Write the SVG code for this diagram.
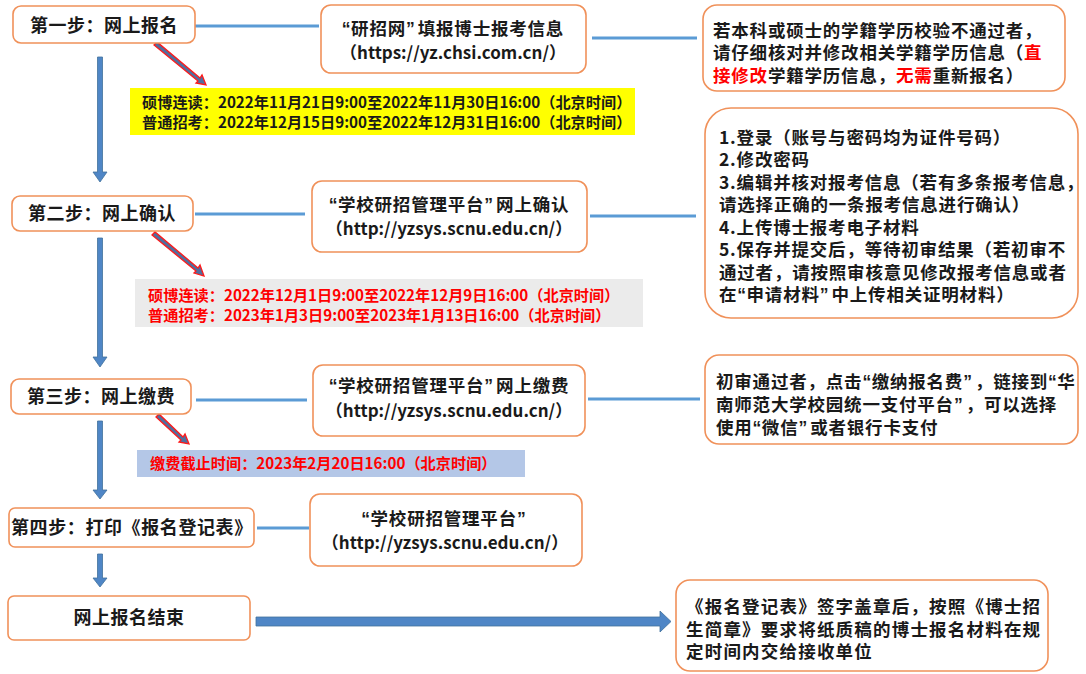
<svg xmlns="http://www.w3.org/2000/svg" width="1086" height="674" viewBox="0 0 1086 674">
<defs>
<style>
.box{fill:#fff;stroke:#F0915A;stroke-width:1.6}
.t{font-family:"Noto Sans CJK SC","Noto Sans",sans-serif;font-weight:bold;fill:#1a1a1a}
.c{text-anchor:middle}
.st{font-size:18px;letter-spacing:0.5px}
.b{font-size:17.5px;letter-spacing:0.8px}
.u{font-size:17px;letter-spacing:0px}
.s15{font-size:15.2px}
.red{fill:#FF0000}
.qo{font-family:"Liberation Sans",sans-serif;letter-spacing:0.5px}
.qc{font-family:"Liberation Sans",sans-serif;letter-spacing:3px}
.ln{stroke:#5B9BD5;stroke-width:3;fill:none}
.va{fill:#4F86C6;stroke:#41719C;stroke-width:0.8}
.ra{fill:#4F6FA0;stroke:#FF1A1A;stroke-width:1.3}
</style>
</defs>
<rect width="1086" height="674" fill="#fff"/>

<g id="connectors">
<line class="ln" x1="195" y1="26" x2="319" y2="26"/>
<line class="ln" x1="592" y1="38" x2="697" y2="38"/>
<line class="ln" x1="195" y1="214" x2="305" y2="214"/>
<line class="ln" x1="590" y1="216" x2="696" y2="216"/>
<line class="ln" x1="196" y1="400" x2="307" y2="400"/>
<line class="ln" x1="588" y1="399" x2="700" y2="399"/>
<line class="ln" x1="257" y1="528" x2="309" y2="528"/>
<path class="va" d="M97.5 57 H102.5 V172 H107 L100 182 L93 172 H97.5 Z"/>
<path class="va" d="M97.5 238 H102.5 V357 H107 L100 367 L93 357 H97.5 Z"/>
<path class="va" d="M97.5 421 H102.5 V490 H107 L100 499 L93 490 H97.5 Z"/>
<path class="va" d="M97.5 554 H102.5 V578 H107 L100 587 L93 578 H97.5 Z"/>
<g class="ra">
<path d="M154 45 L157 42 L200 78 L202 75 L206 85 L196 83 L198 81 Z"/>
<path d="M152 235 L155 232 L198 268 L200 265 L204 276 L194 273 L196 271 Z"/>
<path d="M156 417 L159 414 L183 437 L185 434 L189 444 L179 442 L181 440 Z"/>
</g>
<path fill="#4F86C6" stroke="#41719C" stroke-width="0.8" d="M256 617 H660 V611 L671 621.5 L660 632 V626 H256 Z"/>
</g>

<g id="step1">
<rect class="box" x="13" y="6" width="182" height="37" rx="8"/>
<text class="t c st" x="104" y="32">第一步：网上报名</text>
</g>
<g id="yzw">
<rect class="box" x="321" y="5" width="265" height="68" rx="10"/>
<text class="t c b" x="453" y="35"><tspan class="qo">“</tspan>研招网<tspan class="qc">”</tspan>填报博士报考信息</text>
<text class="t c u" x="453" y="59">（https://yz.chsi.com.cn/）</text>
</g>
<g id="note1">
<rect class="box" x="703" y="5" width="362" height="86" rx="14"/>
<text class="t b" x="713" y="37">若本科或硕士的学籍学历校验不通过者，</text>
<text class="t b" x="713" y="59">请仔细核对并修改相关学籍学历信息（<tspan class="red">直</tspan></text>
<text class="t b" x="713" y="82"><tspan class="red">接修改</tspan>学籍学历信息，<tspan class="red">无需</tspan>重新报名）</text>
</g>
<g id="time1">
<rect x="130" y="88" width="505" height="47" fill="#FFFF00"/>
<text class="t s15" x="142" y="108">硕博连读：2022年11月21日9:00至2022年11月30日16:00（北京时间）</text>
<text class="t s15" x="142" y="128">普通招考：2022年12月15日9:00至2022年12月31日16:00（北京时间）</text>
</g>

<g id="step2">
<rect class="box" x="12" y="196" width="181" height="35" rx="8"/>
<text class="t c st" x="102" y="220">第二步：网上确认</text>
</g>
<g id="confirm">
<rect class="box" x="312" y="181" width="275" height="71" rx="10"/>
<text class="t c b" x="449" y="211"><tspan class="qo">“</tspan>学校研招管理平台<tspan class="qc">”</tspan>网上确认</text>
<text class="t c u" x="449" y="235">（http://yzsys.scnu.edu.cn/）</text>
</g>
<g id="note2">
<rect class="box" x="705" y="108" width="373" height="210" rx="26"/>
<text class="t b" x="719" y="144">1.登录（账号与密码均为证件号码）</text>
<text class="t b" x="719" y="166">2.修改密码</text>
<text class="t b" x="719" y="189">3.编辑并核对报考信息（若有多条报考信息，</text>
<text class="t b" x="719" y="211">请选择正确的一条报考信息进行确认）</text>
<text class="t b" x="719" y="234">4.上传博士报考电子材料</text>
<text class="t b" x="719" y="256">5.保存并提交后，等待初审结果（若初审不</text>
<text class="t b" x="719" y="279">通过者，请按照审核意见修改报考信息或者</text>
<text class="t b" x="719" y="301">在<tspan class="qo">“</tspan>申请材料<tspan class="qc">”</tspan>中上传相关证明材料）</text>
</g>
<g id="time2">
<rect x="135" y="279" width="508" height="48" fill="#EBEBEB"/>
<text class="t s15 red" x="148" y="301">硕博连读：2022年12月1日9:00至2022年12月9日16:00（北京时间）</text>
<text class="t s15 red" x="148" y="321">普通招考：2023年1月3日9:00至2023年1月13日16:00（北京时间）</text>
</g>

<g id="step3">
<rect class="box" x="11" y="379" width="180" height="35" rx="8"/>
<text class="t c st" x="101" y="403">第三步：网上缴费</text>
</g>
<g id="pay">
<rect class="box" x="313" y="365" width="272" height="71" rx="10"/>
<text class="t c b" x="449" y="392"><tspan class="qo">“</tspan>学校研招管理平台<tspan class="qc">”</tspan>网上缴费</text>
<text class="t c u" x="449" y="417">（http://yzsys.scnu.edu.cn/）</text>
</g>
<g id="note3">
<rect class="box" x="705" y="355" width="373" height="89" rx="14"/>
<text class="t b" x="716" y="388">初审通过者，点击<tspan class="qo">“</tspan>缴纳报名费<tspan class="qc">”</tspan>，链接到<tspan class="qo">“</tspan>华</text>
<text class="t b" x="716" y="411">南师范大学校园统一支付平台<tspan class="qc">”</tspan>，可以选择</text>
<text class="t b" x="716" y="434">使用<tspan class="qo">“</tspan>微信<tspan class="qc">”</tspan>或者银行卡支付</text>
</g>
<g id="time3">
<rect x="137" y="450" width="388" height="27" fill="#B4C7E7"/>
<text class="t s15 red" x="150" y="469">缴费截止时间：2023年2月20日16:00（北京时间）</text>
</g>

<g id="step4">
<rect class="box" x="9" y="508" width="245" height="39" rx="6"/>
<text class="t" x="11" y="534" style="font-size:18px;letter-spacing:0.6px">第四步：打印《报名登记表》</text>
</g>
<g id="print">
<rect class="box" x="310" y="494" width="272" height="72" rx="10"/>
<text class="t c b" x="445" y="525"><tspan class="qo">“</tspan>学校研招管理平台<tspan class="qc">”</tspan></text>
<text class="t c u" x="445" y="549">（http://yzsys.scnu.edu.cn/）</text>
</g>
<g id="end">
<rect class="box" x="8" y="596" width="242" height="44" rx="6"/>
<text class="t c st" x="129" y="624">网上报名结束</text>
</g>
<g id="note4">
<rect class="box" x="676" y="580" width="372" height="91" rx="14"/>
<text class="t b" x="686" y="613" style="letter-spacing:1.2px">《报名登记表》签字盖章后，按照《博士招</text>
<text class="t b" x="686" y="636" style="letter-spacing:1.2px">生简章》要求将纸质稿的博士报名材料在规</text>
<text class="t b" x="686" y="658" style="letter-spacing:1.2px">定时间内交给接收单位</text>
</g>
</svg>
